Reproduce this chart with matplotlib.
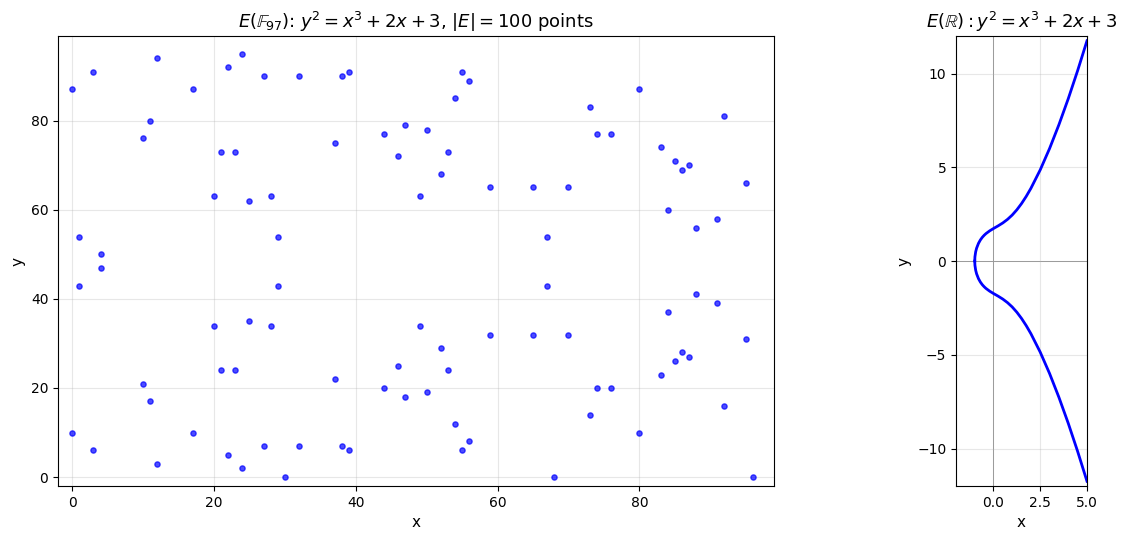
import matplotlib
matplotlib.use("Agg")
import matplotlib.pyplot as plt

# Points of E(F_97): (x, y) pairs
pt_x = [0, 0, 1, 1, 3, 3, 4, 4, 10, 10, 11, 11, 12, 12, 17, 17,
        20, 20, 21, 21, 22, 22, 23, 23, 24, 24, 25, 25, 27, 27, 28, 28,
        29, 29, 30, 32, 32, 37, 37, 38, 38, 39, 39, 44, 44, 46, 46,
        47, 47, 49, 49, 50, 50, 52, 52, 53, 53, 54, 54, 55, 55, 56, 56,
        59, 59, 65, 65, 67, 67, 68, 70, 70, 73, 73, 74, 74, 76, 76,
        80, 80, 83, 83, 84, 84, 85, 85, 86, 86, 87, 87, 88, 88,
        91, 91, 92, 92, 95, 95, 96]
pt_y = [10, 87, 43, 54, 6, 91, 47, 50, 21, 76, 17, 80, 3, 94, 10, 87,
        34, 63, 24, 73, 5, 92, 24, 73, 2, 95, 35, 62, 7, 90, 34, 63,
        43, 54, 0, 7, 90, 22, 75, 7, 90, 6, 91, 20, 77, 25, 72,
        18, 79, 34, 63, 19, 78, 29, 68, 24, 73, 12, 85, 6, 91, 8, 89,
        32, 65, 32, 65, 43, 54, 0, 32, 65, 14, 83, 20, 77, 20, 77,
        10, 87, 23, 74, 37, 60, 26, 71, 28, 69, 27, 70, 41, 56,
        39, 58, 16, 81, 31, 66, 0]

curve_x = [-1.0, -0.99, -0.95, -0.9, -0.8, -0.7, -0.6, -0.5, -0.4, -0.2,
           0.0, 0.25, 0.5, 0.75, 1.0, 1.25, 1.5, 1.75, 2.0, 2.5,
           3.0, 3.5, 4.0, 4.5, 5.0]
curve_upper = [0.0, 0.223, 0.493, 0.686, 0.942, 1.121, 1.259, 1.369, 1.462, 1.610,
               1.732, 1.875, 2.031, 2.219, 2.449, 2.730, 3.062, 3.444, 3.873, 4.861,
               6.0, 7.272, 8.660, 10.155, 11.747]
curve_lower = [0.0, -0.223, -0.493, -0.686, -0.942, -1.121, -1.259, -1.369, -1.462, -1.610,
               -1.732, -1.875, -2.031, -2.219, -2.449, -2.730, -3.062, -3.444, -3.873, -4.861,
               -6.0, -7.272, -8.660, -10.155, -11.747]

fig = plt.figure(figsize=(11.27, 5.4), dpi=100)
ax1 = fig.add_axes([0.0515, 0.1, 0.6353, 0.8333])
ax2 = fig.add_axes([0.8483, 0.1, 0.1162, 0.8333])

ax1.scatter(pt_x, pt_y, s=14, color="blue", alpha=0.7, zorder=3)
ax1.set_xlim(-2, 99)
ax1.set_ylim(-2, 99)
ax1.set_xticks([0, 20, 40, 60, 80])
ax1.set_yticks([0, 20, 40, 60, 80])
ax1.grid(True, alpha=0.3)
ax1.set_xlabel("x", fontsize=11)
ax1.set_ylabel("y", fontsize=11)
ax1.set_title(r"$E(\mathbb{F}_{97})$: $y^2 = x^3 + 2x + 3$, $|E| = 100$ points", fontsize=13)

ax2.plot(curve_x, curve_upper, color="blue", linewidth=2)
ax2.plot(curve_x, curve_lower, color="blue", linewidth=2)
ax2.axhline(0, color="gray", linewidth=0.6, zorder=0)
ax2.axvline(0, color="gray", linewidth=0.6, zorder=0)
ax2.set_xlim(-2, 5)
ax2.set_ylim(-12, 12)
ax2.set_xticks([0, 2.5, 5.0])
ax2.set_yticks([-10, -5, 0, 5, 10])
ax2.grid(True, alpha=0.3)
ax2.set_xlabel("x", fontsize=11)
ax2.set_ylabel("y", fontsize=11)
ax2.set_title(r"$E(\mathbb{R}): y^2 = x^3 + 2x + 3$", fontsize=13)

fig.savefig("out.png", dpi=100)
